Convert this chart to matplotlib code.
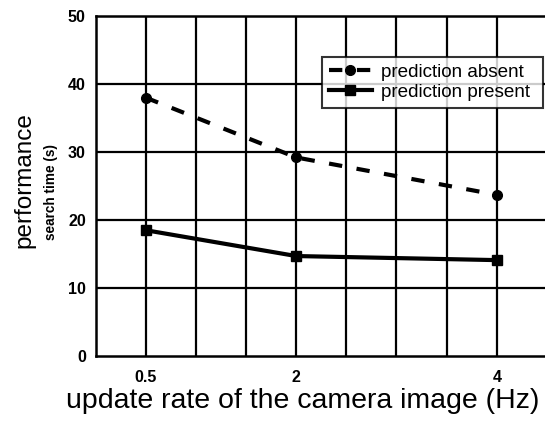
import matplotlib

matplotlib.use("Agg")
import matplotlib.pyplot as plt

# update rate in Hz and mean search time in seconds
rates = [0.5, 2, 4]
absent = [38.0, 29.2, 23.7]
present = [18.5, 14.7, 14.1]

x_ticks = [0.5, 2, 4]
x_tick_labels = ["0.5", "2", "4"]
y_ticks = [0, 10, 20, 30, 40, 50]

plt.rcParams["font.family"] = ["Liberation Sans", "DejaVu Sans"]

W, H = 545, 424
fig = plt.figure(figsize=(W / 100, H / 100), dpi=100)
ax = fig.add_axes([95.5 / W, (H - 356) / H, (547 - 95.5) / W, (356 - 16) / H])

ax.set_xlim(0, 4.5)
ax.set_ylim(0, 50)

# grid every 0.5 Hz and every 10 s
for gx in [0.5 * i for i in range(1, 9)]:
    ax.axvline(gx, color="black", lw=1.6, zorder=1)
for gy in [10, 20, 30, 40]:
    ax.axhline(gy, color="black", lw=1.6, zorder=1)

ax.plot(rates, absent, color="black", lw=3, ls=(0, (3.2, 3.5)),
        marker="o", ms=7, label="prediction absent", zorder=3)
ax.plot(rates, present, color="black", lw=3, ls="-",
        marker="s", ms=7.5, label="prediction present", zorder=3)

ax.set_xticks(x_ticks, x_tick_labels)
ax.set_yticks(y_ticks)
ax.tick_params(length=0, labelsize=11.5, pad=7)
ax.tick_params(axis="x", pad=10)
for lab in ax.get_xticklabels() + ax.get_yticklabels():
    lab.set_fontweight("bold")

for sp in ax.spines.values():
    sp.set_linewidth(1.8)

fig.text(24 / W, 1 - 180 / H, "performance", rotation=90, ha="center", va="center",
         fontsize=17.5)
fig.text(51.5 / W, 1 - 192 / H, "search time (s)", rotation=90, ha="center",
         va="center", fontsize=9.8, fontweight="bold")
fig.text(303 / W, 1 - 401 / H, "update rate of the camera image (Hz)", ha="center",
         va="center", fontsize=20.5)

leg = ax.legend(loc="upper left",
                bbox_to_anchor=(322 / W, 1 - 107 / H, 221 / W, 50 / H),
                bbox_transform=fig.transFigure, mode="expand", fontsize=13.6,
                frameon=True, fancybox=False, edgecolor="black",
                handlelength=2.3, handletextpad=0.45, borderpad=0.35,
                labelspacing=0.15, borderaxespad=0)
leg.get_frame().set_linewidth(1.5)
leg.set_zorder(5)

fig.savefig("out.png", dpi=100)
